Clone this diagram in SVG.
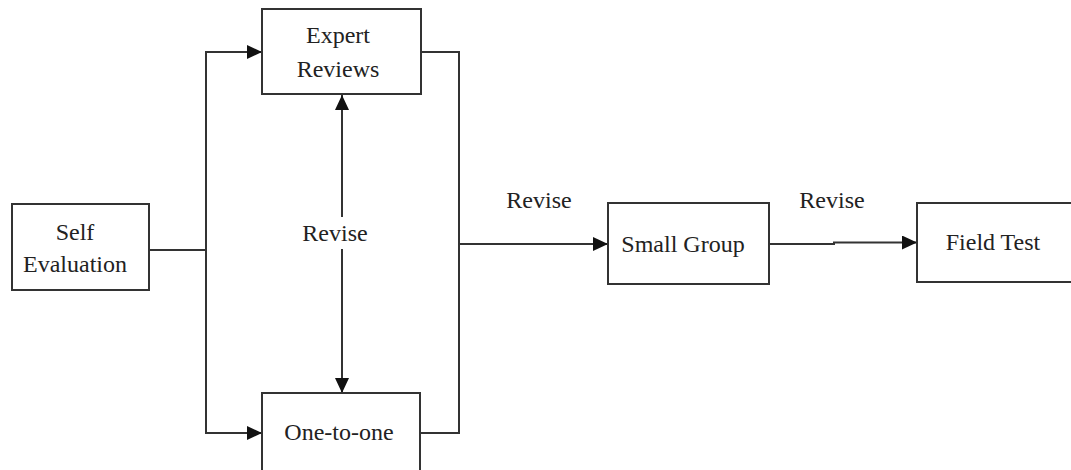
<svg xmlns="http://www.w3.org/2000/svg" width="1071" height="470" viewBox="0 0 1071 470">
<style>
.box{fill:#fff;stroke:#333;stroke-width:2}
.ln{fill:none;stroke:#333;stroke-width:2}
text{font-family:"Liberation Serif","Times New Roman",serif;font-size:24px;fill:#222;text-anchor:middle}
</style>
<defs>
<marker id="ah" viewBox="0 0 15 14" refX="15" refY="7" markerWidth="15" markerHeight="14" markerUnits="userSpaceOnUse" orient="auto">
<path d="M0,0 L15,7 L0,14 Z" fill="#111"/>
</marker>
</defs>
<rect width="1071" height="470" fill="#fff"/>
<g id="connectors">
<polyline class="ln" points="149,250 206,250"/>
<polyline class="ln" points="206,433 206,52 262,52" marker-end="url(#ah)"/>
<polyline class="ln" points="206,250 206,433 262,433" marker-end="url(#ah)"/>
<line class="ln" x1="342" y1="217" x2="342" y2="95" marker-end="url(#ah)"/>
<line class="ln" x1="342" y1="249" x2="342" y2="393" marker-end="url(#ah)"/>
<polyline class="ln" points="421,52 459,52 459,433 420,433"/>
<line class="ln" x1="459" y1="244" x2="608" y2="244" marker-end="url(#ah)"/>
<polyline class="ln" points="769,244 834,244 834,242.5 917,242.5" marker-end="url(#ah)"/>
<text x="335" y="241">Revise</text>
<text x="539" y="208">Revise</text>
<text x="832" y="208">Revise</text>
</g>
<g id="self">
<rect class="box" x="12" y="204" width="137" height="86"/>
<text x="75" y="240">Self</text>
<text x="75" y="272">Evaluation</text>
</g>
<g id="expert">
<rect class="box" x="262" y="9" width="159" height="85"/>
<text x="338" y="43">Expert</text>
<text x="338" y="77">Reviews</text>
</g>
<g id="onetoone">
<rect class="box" x="262" y="393" width="158" height="90"/>
<text x="339" y="440">One-to-one</text>
</g>
<g id="smallgroup">
<rect class="box" x="608" y="203" width="161" height="81"/>
<text x="683" y="252">Small Group</text>
</g>
<g id="fieldtest">
<rect class="box" x="917" y="203" width="170" height="79"/>
<text x="993" y="250">Field Test</text>
</g>
</svg>
